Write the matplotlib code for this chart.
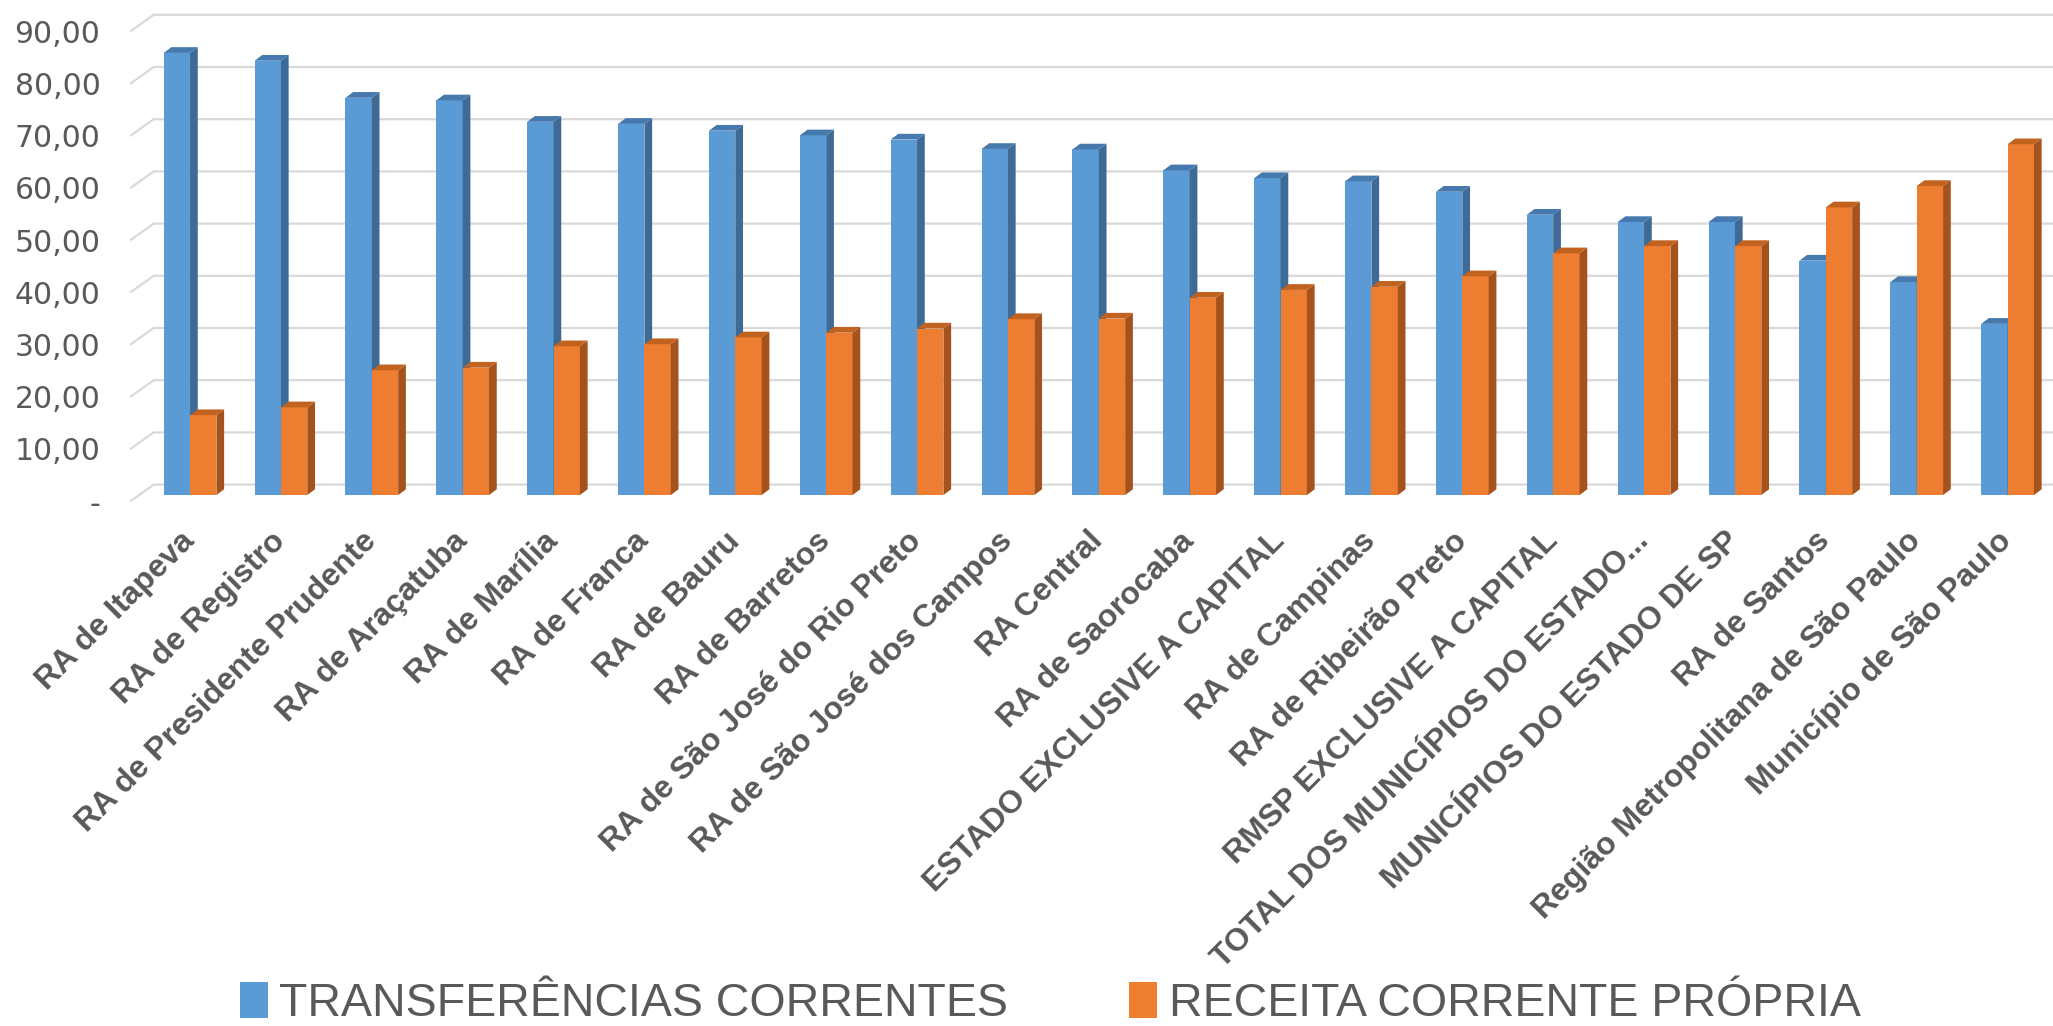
#!/usr/bin/env python3
import numpy as np
import matplotlib
matplotlib.use("Agg")
import matplotlib.pyplot as plt
from matplotlib.patches import Polygon, Patch
from matplotlib.transforms import ScaledTranslation

regions = [
    "RA de Itapeva", "RA de Registro", "RA de Presidente Prudente",
    "RA de Araçatuba", "RA de Marília", "RA de Franca", "RA de Bauru",
    "RA de Barretos", "RA de São José do Rio Preto",
    "RA de São José dos Campos", "RA Central", "RA de Saorocaba",
    "ESTADO EXCLUSIVE A CAPITAL", "RA de Campinas", "RA de Ribeirão Preto",
    "RMSP EXCLUSIVE A CAPITAL", "TOTAL DOS MUNICÍPIOS DO ESTADO...",
    "MUNICÍPIOS DO ESTADO DE SP", "RA de Santos",
    "Região Metropolitana de São Paulo", "Município de São Paulo",
]
transferencias = [84.7, 83.2, 76.1, 75.6, 71.5, 71.1, 69.8, 68.9, 68.1, 66.3, 66.2,
                  62.2, 60.7, 60.1, 58.1, 53.7, 52.3, 52.3, 44.9, 40.8, 32.8]
receita_propria = [15.3, 16.8, 23.9, 24.4, 28.5, 28.9, 30.2, 31.1, 31.9, 33.7, 33.8,
                   37.8, 39.3, 39.9, 41.9, 46.3, 47.7, 47.7, 55.1, 59.2, 67.2]
yticks = [0, 10, 20, 30, 40, 50, 60, 70, 80, 90]
ytick_labels = ["-", "10,00", "20,00", "30,00", "40,00", "50,00", "60,00",
                "70,00", "80,00", "90,00"]
series_names = ["TRANSFERÊNCIAS CORRENTES", "RECEITA CORRENTE PRÓPRIA"]

# colours: front, side, top
BLUE = ("#5B9BD5", "#3E6A95", "#4679AD")
ORANGE = ("#ED7D31", "#A5521C", "#C2621F")


def bar3d(ax, x0, w, h, cols, dx, dy):
    front, side, top = cols
    x1 = x0 + w
    ax.add_patch(Polygon([(x0, 0), (x1, 0), (x1, h), (x0, h)], closed=True,
                         fc=front, ec="none", zorder=3))
    ax.add_patch(Polygon([(x1, 0), (x1 + dx, dy), (x1 + dx, h + dy), (x1, h)],
                         closed=True, fc=side, ec="none", zorder=3))
    ax.add_patch(Polygon([(x0, h), (x0 + dx, h + dy), (x1 + dx, h + dy), (x1, h)],
                         closed=True, fc=top, ec="none", zorder=3))


def main():
    fig = plt.figure(figsize=(20.53, 10.26), dpi=100)
    ax = fig.add_axes([0.0638, 0.5175, 0.9362, 0.4808])

    xleft, xright = -0.65, 20.5
    ax.set_xlim(xleft, xright)
    ax.set_ylim(0, 94.5)

    # back wall gridlines with the diagonal at the left
    wall_dx = 0.25
    for v in yticks:
        ax.plot([xleft, xleft + wall_dx, xright], [v - 1.1, v + 2.0, v + 2.0],
                color="#D9D9D9", lw=1.6, zorder=1, clip_on=False)

    w = 0.29
    bdx, bdy = 0.085, 1.1
    x = np.arange(len(regions))
    for i in range(len(regions)):
        bar3d(ax, x[i] - w, w, transferencias[i], BLUE, bdx, bdy)
        bar3d(ax, x[i], w, receita_propria[i], ORANGE, bdx, bdy)

    for s in ax.spines.values():
        s.set_visible(False)

    ax.set_yticks(yticks)
    ax.set_yticklabels(ytick_labels, fontsize=21.5, color="#595959", family="DejaVu Sans")
    ax.tick_params(axis="y", length=0, pad=22)
    down = ScaledTranslation(0, -6 / 100, fig.dpi_scale_trans)
    for lab in ax.get_yticklabels():
        lab.set_transform(lab.get_transform() + down)

    ax.set_xticks(x)
    ax.set_xticklabels(regions, rotation=45, ha="right", va="center",
                       rotation_mode="anchor", fontsize=23, fontweight="bold",
                       color="#595959", family="Liberation Sans")
    ax.tick_params(axis="x", length=0, pad=30)

    handles = [Patch(facecolor=BLUE[0]), Patch(facecolor=ORANGE[0])]
    fig.legend(handles, series_names, loc="center", bbox_to_anchor=(0.5115, 0.021),
               ncol=2, frameon=False, handlelength=0.6,
               handleheight=0.8, handletextpad=0.25, columnspacing=2.6,
               labelcolor="#595959", prop={"family": "Liberation Sans", "size": 33.5})

    fig.savefig("out.png", dpi=100)


if __name__ == "__main__":
    main()
